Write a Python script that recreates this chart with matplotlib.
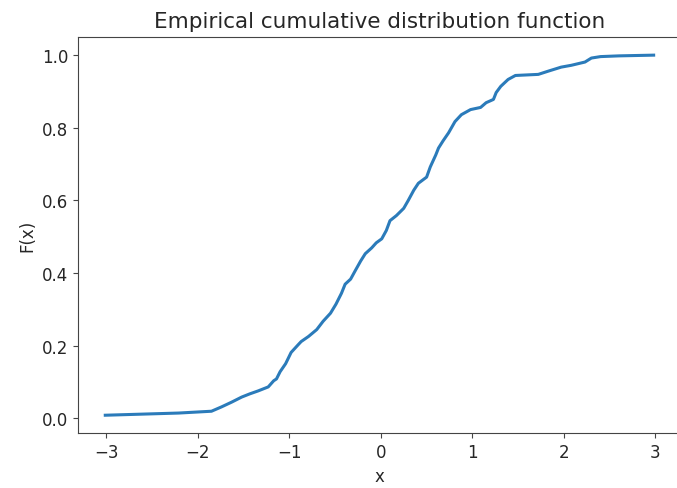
import numpy as np
import matplotlib.pyplot as plt

# Points (sorted sample values and cumulative fraction)
x_vals = [-3.01, -2.21, -1.85, -1.74, -1.63, -1.52, -1.43, -1.34, -1.23, -1.17,
          -1.14, -1.10, -1.04, -0.98, -0.90, -0.87, -0.79, -0.70, -0.63, -0.55,
          -0.49, -0.43, -0.39, -0.33, -0.28, -0.22, -0.17, -0.10, -0.05, 0.01,
          0.06, 0.10, 0.17, 0.25, 0.30, 0.36, 0.41, 0.50, 0.54, 0.60,
          0.63, 0.68, 0.74, 0.81, 0.88, 0.98, 1.09, 1.15, 1.23, 1.26,
          1.31, 1.39, 1.47, 1.72, 1.83, 1.97, 2.08, 2.23, 2.30, 2.40,
          2.60, 2.98]
f_vals = [0.008, 0.014, 0.019, 0.031, 0.044, 0.058, 0.067, 0.075, 0.086, 0.103,
          0.108, 0.128, 0.150, 0.181, 0.203, 0.211, 0.225, 0.244, 0.267, 0.289,
          0.314, 0.344, 0.369, 0.383, 0.406, 0.433, 0.453, 0.469, 0.483, 0.494,
          0.517, 0.544, 0.558, 0.578, 0.600, 0.628, 0.647, 0.664, 0.692, 0.725,
          0.744, 0.764, 0.786, 0.817, 0.836, 0.850, 0.856, 0.869, 0.878, 0.897,
          0.914, 0.933, 0.944, 0.947, 0.956, 0.967, 0.972, 0.981, 0.992, 0.996,
          0.998, 1.000]

fig = plt.figure(figsize=(6.77, 4.89), dpi=100)
ax = fig.add_axes([0.115, 0.112, 0.891, 0.81])

ax.plot(x_vals, f_vals, color='#2b7bba', linewidth=2.2)
ax.set_xticks([-3, -2, -1, 0, 1, 2, 3])
ax.set_yticks([0.0, 0.2, 0.4, 0.6, 0.8, 1.0])
ax.tick_params(labelsize=12, labelcolor='#262626', color='#444444')
for s in ax.spines.values():
    s.set_color('#444444')
ax.set_xlabel('x', fontsize=12, color='#262626')
ax.set_ylabel('F(x)', fontsize=12, color='#262626')
ax.set_title('Empirical cumulative distribution function', fontsize=15.5,
             pad=7, color='#262626')

fig.savefig('out.png', dpi=100)
